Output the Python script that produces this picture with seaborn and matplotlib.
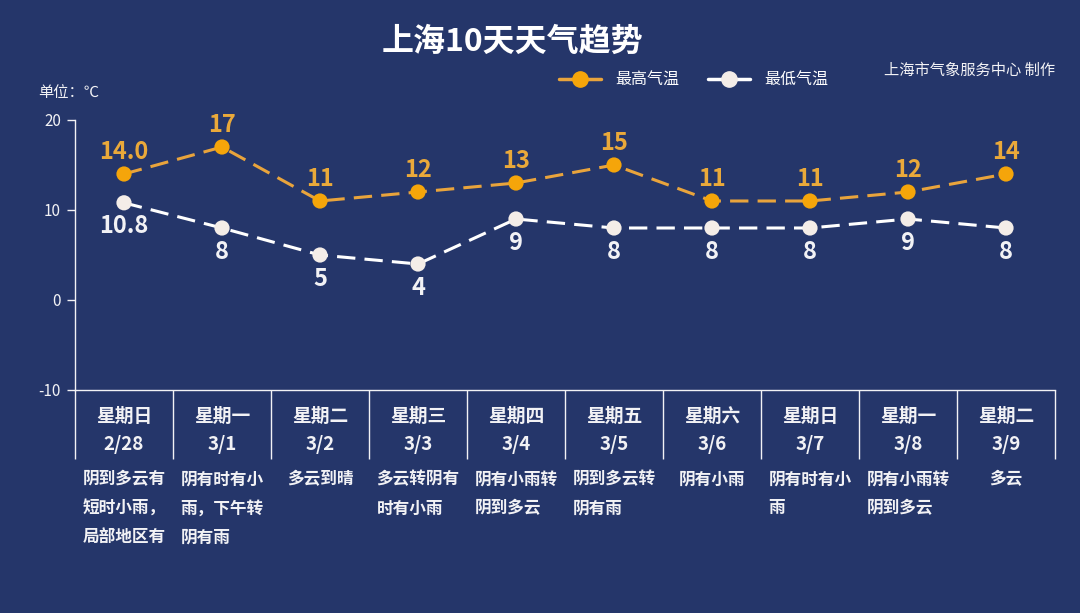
import matplotlib
matplotlib.use("Agg")
import matplotlib.pyplot as plt
from matplotlib.lines import Line2D
import seaborn as sns
import pandas as pd

# ---- data ----
weekdays = ["星期日", "星期一", "星期二", "星期三", "星期四", "星期五", "星期六", "星期日", "星期一", "星期二"]
dates = ["2/28", "3/1", "3/2", "3/3", "3/4", "3/5", "3/6", "3/7", "3/8", "3/9"]
high_temps = [14.0, 17, 11, 12, 13, 15, 11, 11, 12, 14]
low_temps = [10.8, 8, 5, 4, 9, 8, 8, 8, 9, 8]
high_labels = ["14.0", "17", "11", "12", "13", "15", "11", "11", "12", "14"]
low_labels = ["10.8", "8", "5", "4", "9", "8", "8", "8", "9", "8"]
weather = [
    "阴到多云有\n短时小雨，\n局部地区有",
    "阴有时有小\n雨，下午转\n阴有雨",
    "多云到晴",
    "多云转阴有\n时有小雨",
    "阴有小雨转\n阴到多云",
    "阴到多云转\n阴有雨",
    "阴有小雨",
    "阴有时有小\n雨",
    "阴有小雨转\n阴到多云",
    "多云",
]
y_ticks = [-10, 0, 10, 20]
title = "上海10天天气趋势"
series_names = ["最高气温", "最低气温"]

# ---- style ----
BG = "#25366A"
ORANGE = "#F5A50A"
ORANGE_LINE = "#E9A43C"
ORANGE_TEXT = "#EAA93A"
CREAM = "#F4EDE8"
WHITE = "#F2F2F5"

sns.set_theme(style="white")
plt.rcParams["font.family"] = ["Noto Sans CJK SC", "DejaVu Sans"]
plt.rcParams["axes.unicode_minus"] = False

W, H = 1080, 613
fig = plt.figure(figsize=(W / 100, H / 100), dpi=100, facecolor=BG)
ax = fig.add_axes([75 / W, 1 - 390 / H, 980 / W, 270 / H], facecolor=BG)

df = pd.DataFrame({
    "pos": list(range(len(dates))) * 2,
    "temp": high_temps + low_temps,
    "series": [series_names[0]] * len(dates) + [series_names[1]] * len(dates),
})

sns.lineplot(data=df[df.series == series_names[0]], x="pos", y="temp", ax=ax,
             color=ORANGE_LINE, lw=2.2, dashes=False, legend=False, zorder=2)
sns.lineplot(data=df[df.series == series_names[1]], x="pos", y="temp", ax=ax,
             color="white", lw=2.2, dashes=False, legend=False, zorder=2)
for ln in ax.lines:
    ln.set_dashes((6, 3))
sns.scatterplot(data=df[df.series == series_names[0]], x="pos", y="temp", ax=ax,
                color=ORANGE, s=120, edgecolor="none", legend=False, zorder=3)
sns.scatterplot(data=df[df.series == series_names[1]], x="pos", y="temp", ax=ax,
                color=CREAM, s=120, edgecolor="none", legend=False, zorder=3)

for i, (h, lab) in enumerate(zip(high_temps, high_labels)):
    ax.annotate(lab, (i, h), xytext=(0, 16), textcoords="offset points",
                ha="center", va="center", fontsize=17, fontweight="bold", color=ORANGE_TEXT)
for i, (l, lab) in enumerate(zip(low_temps, low_labels)):
    ax.annotate(lab, (i, l), xytext=(0, -17), textcoords="offset points",
                ha="center", va="center", fontsize=17, fontweight="bold", color=WHITE)

ax.set_xlim(-0.5, len(dates) - 0.5)
ax.set_ylim(-10, 20)
ax.set_yticks(y_ticks)
ax.set_yticklabels([str(t) for t in y_ticks], fontsize=11, color=WHITE)
ax.tick_params(axis="y", length=6, width=1, color=WHITE, pad=4, left=True)
ax.set_xlabel("")
ax.set_ylabel("")

# x ticks: dividers as minor ticks, labels as major
ax.set_xticks(range(len(dates)))
ax.set_xticklabels([f"{w}\n{d}" for w, d in zip(weekdays, dates)],
                   fontsize=13.5, fontweight="bold", color=WHITE, linespacing=1.62)
ax.tick_params(axis="x", which="major", length=0, pad=12)
ax.set_xticks([i - 0.5 for i in range(len(dates) + 1)], minor=True)
ax.tick_params(axis="x", which="minor", length=50, width=1, color=WHITE, direction="out", bottom=True)

for s in ["top", "right"]:
    ax.spines[s].set_visible(False)
for s in ["left", "bottom"]:
    ax.spines[s].set_color(WHITE)
    ax.spines[s].set_linewidth(1)

# weather descriptions
for i, txt in enumerate(weather):
    ax.annotate(txt, (i, 0), xycoords=("data", "axes fraction"), xytext=(0, -58),
                textcoords="offset points", ha="center", va="top", multialignment="left",
                fontsize=12, fontweight="bold", color=WHITE, linespacing=1.78)

# title and annotations
fig.text(512 / W, 1 - 42 / H, title, ha="center", va="center", fontsize=23,
         fontweight="bold", color="white")
fig.text(38 / W, 1 - 93 / H, "单位：℃", ha="left", va="center", fontsize=11, color=WHITE)
fig.text(970 / W, 1 - 70 / H, "上海市气象服务中心 制作", ha="center", va="center",
         fontsize=11, color=WHITE)

handles = [
    Line2D([], [], color=ORANGE_LINE, lw=2.5, marker="o", markersize=11,
           markerfacecolor=ORANGE, markeredgecolor=ORANGE),
    Line2D([], [], color="white", lw=2.5, marker="o", markersize=11,
           markerfacecolor=CREAM, markeredgecolor=CREAM),
]
fig.legend(handles, series_names, loc="center left", bbox_to_anchor=(545 / W, 1 - 80 / H),
           ncol=2, frameon=False, fontsize=11.5, handlelength=2.6, handletextpad=0.9,
           columnspacing=1.8, labelcolor="white")

fig.savefig("out.png", dpi=100, facecolor=BG)
